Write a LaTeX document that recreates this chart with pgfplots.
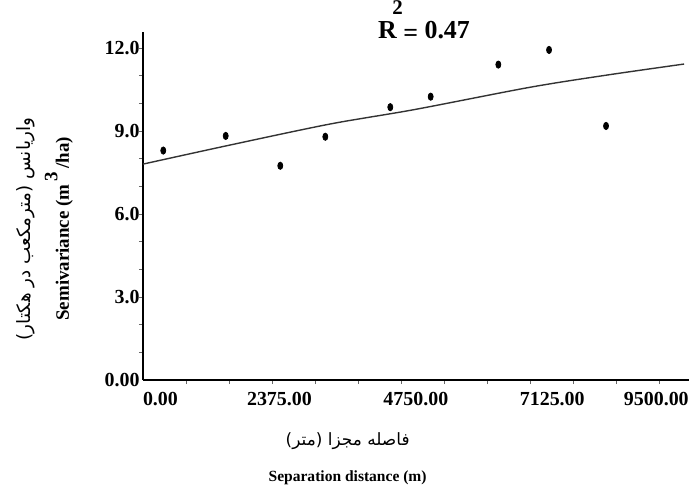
\documentclass[border=0pt]{standalone}
\usepackage{fontspec}
\setmainfont{Liberation Serif}
\newfontfamily\arabicfont[Script=Arabic]{DejaVu Sans}
\TeXXeTstate=1
\usepackage{pgfplots}
\pgfplotsset{compat=1.18}
\begin{document}
\begin{tikzpicture}
\path[use as bounding box] (-71.5bp,-55.5bp) rectangle (277.5bp,190bp);
\begin{axis}[
  at={(0,0)}, anchor=south west,
  scale only axis, width=272.85bp, height=174.15bp,
  xmin=0, xmax=9500, ymin=0, ymax=12.6,
  axis lines*=left,
  axis line style={black, line width=0.8bp},
  xtick={0,2375,4750,7125,9500},
  xticklabels={\rlap{0.00},2375.00,4750.00,7125.00,\llap{9500.00}},
  minor xtick={750,1500,...,9000},
  ytick={0,3,6,9,12},
  yticklabels={0.00,3.0,6.0,9.0,12.0},
  minor ytick={1,2,...,12},
  tick align=outside,
  major tick length=0bp, minor tick length=2bp,
  minor tick style={black!60, line width=0.5bp},
  tick label style={font=\fontsize{10}{12}\selectfont\bfseries},
  xticklabel style={anchor=north, inner sep=0pt, yshift=-6bp},
  yticklabel style={anchor=east, inner sep=0pt, xshift=-1.5bp},
  title={\fontsize{13}{15}\selectfont\bfseries R\kern-2.2bp\raisebox{12bp}{\fontsize{10.5}{12}\selectfont 2}\kern0.2bp\raisebox{-1.2bp}{=} 0.47},
  title style={at={(rel axis cs:0.515,0.945)}, anchor=base, inner sep=0pt, yshift=0pt},
  xlabel={{\arabicfont\fontsize{8.5}{10}\selectfont\beginR فاصله مجزا (متر)\endR}\\[6bp]{\fontsize{7.8}{9}\selectfont\bfseries Separation distance (m)}},
  xlabel style={at={(rel axis cs:0.375,-0.292)}, anchor=base, align=center, inner sep=0pt},
  ylabel={{\arabicfont\fontsize{9.2}{11}\selectfont\beginR واریانس (مترمکعب در هکتار)\endR}\\[4bp]{\fontsize{9.5}{11}\selectfont\bfseries Semivariance (m\,\raisebox{0.6em}{3}\,/ha)}},
  ylabel style={at={(rel axis cs:-0.136,0.434)}, anchor=base, align=center, inner sep=0pt},
  clip=false,
]
\addplot[only marks, mark=*, mark size=1.25bp, mark options={yscale=1.45, fill=black, draw=black}] coordinates {
  (353,8.30) (1440,8.83) (2390,7.75) (3174,8.80) (4305,9.87)
  (5008,10.25) (6186,11.41) (7069,11.94) (8061,9.19)
};
\addplot[no markers, smooth, black!80, line width=0.7bp] coordinates {
  (0,7.81) (1515,8.50) (3256,9.26) (4718,9.78) (6738,10.59) (8073,11.03) (9419,11.43)
};
\end{axis}
\end{tikzpicture}
\end{document}
